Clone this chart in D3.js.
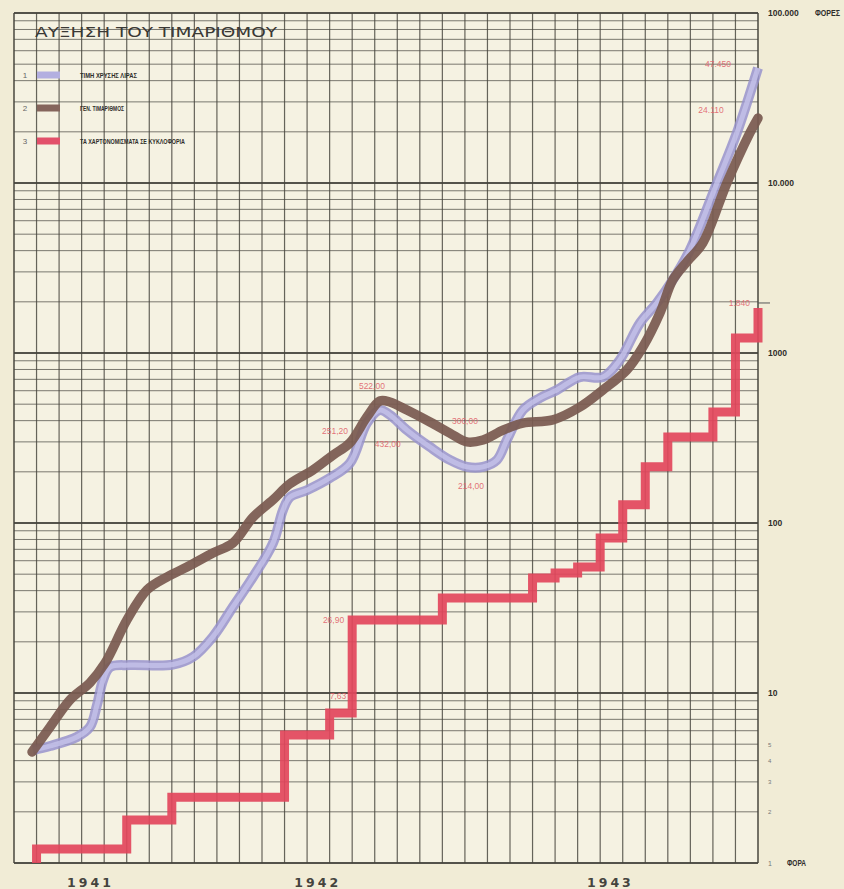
<!DOCTYPE html>
<html>
<head>
<meta charset="utf-8">
<script src="https://cdn.jsdelivr.net/npm/d3@7"></script>
<style>
  html, body { margin: 0; padding: 0; background: #f1edd9; }
  svg { display: block; }
</style>
</head>
<body>
<svg id="chart" width="844" height="889"></svg>
<script>
// ---------- DATA ----------
const title = "ΑΥΞΗΣΗ ΤΟΥ ΤΙΜΑΡΙΘΜΟΥ";
const legendLabels = ["ΤΙΜΗ ΧΡΥΣΗΣ ΛΙΡΑΣ", "ΓΕΝ. ΤΙΜΑΡΙΘΜΟΣ", "ΤΑ ΧΑΡΤΟΝΟΜΙΣΜΑΤΑ ΣΕ ΚΥΚΛΟΦΟΡΙΑ"];
const legendNumbers = ["1", "2", "3"];

// month index 0..33 (vertical grid lines)
const monthCount = 33;
const yearLabels = ["1941", "1942", "1943"];
const yearMonths = [3.37, 13.45, 26.43];

// right axis (multiples, "φορές")
const majorTicks = [1, 10, 100, 1000, 10000, 100000];
const majorTickLabels = ["1", "10", "100", "1000", "10.000", "100.000"];
const minorTicks = [2, 3, 4, 5];
const minorTickLabels = ["2", "3", "4", "5"];
const unitTop = "ΦΟΡΕΣ";
const unitBottom = "ΦΟΡΑ";

// series 1 (lavender)
const s1Months = [0.84, 1.6, 2.79, 3.37, 3.68, 3.95, 4.26, 5.14, 7.05, 7.94, 8.82, 9.71, 10.6, 11.49, 11.93, 12.24, 12.99, 14.01, 14.9, 15.65, 16.23, 16.67, 17.43, 18.45, 19.33, 20.09, 20.8, 21.42, 21.86, 22.57, 23.33, 24.08, 25.1, 26.12, 26.87, 27.76, 28.51, 29.22, 29.98, 31.18, 32.06, 33];
const s1Values = [4.62, 4.88, 5.51, 6.31, 8.5, 11.9, 14.2, 14.6, 14.7, 16.3, 21.4, 32.1, 48.1, 76.3, 119, 142, 156, 184, 225, 387, 462, 432, 352, 280, 235, 214, 214, 235, 308, 462, 544, 606, 722, 722, 910, 1500, 1970, 2690, 4040, 10000, 19700, 47450];

// series 2 (brown)
const s2Months = [0.8, 1.6, 2.48, 3.37, 4.04, 5.01, 5.9, 6.78, 7.67, 8.82, 9.71, 10.6, 11.49, 12.24, 13.26, 14.15, 14.9, 15.65, 16.23, 16.67, 17.43, 18.45, 19.33, 20.09, 20.8, 21.69, 22.57, 23.9, 25.1, 26.12, 27.18, 27.89, 28.65, 29.22, 29.84, 30.55, 31.62, 32.64, 33];
const s2Values = [4.5, 6.31, 9.1, 11.5, 15.0, 26.9, 40.4, 48.1, 55.1, 66.6, 76.3, 108, 137, 170, 205, 251, 296, 420, 522, 515, 462, 393, 338, 300, 308, 352, 387, 404, 481, 606, 794, 1084, 1719, 2690, 3430, 4440, 10000, 19700, 24110];

// series 3 (red, stepped)
const s3Months = [1, 1, 5, 7, 12, 14, 15, 19, 23, 24, 25, 26, 27, 28, 29, 31, 32, 33];
const s3Values = [1, 1.21, 1.79, 2.44, 5.66, 7.63, 26.9, 36.2, 47.5, 50.8, 55.1, 81.6, 128, 214, 321, 450, 1225, 1840];

// value annotations (anchor in data units)
const annotMonths = [14.15, 16.23, 16.67, 20.09, 20.45, 33, 33, 15, 15, 33];
const annotValues = [251, 522, 432, 300, 214, 47450, 24110, 26.9, 7.63, 1840];
const annotTexts = ["251,20", "522,00", "432,00", "300,00", "214,00", "47.450", "24.110", "26,90", "7,63", "1.840"];

// ---------- DRAW ----------
const W = 844, H = 889;
const svg = d3.select("#chart");
svg.append("rect").attr("width", W).attr("height", H).attr("fill", "#f1ecd6");

const x = d3.scaleLinear().domain([0, monthCount]).range([14, 758]);
const y = d3.scaleLog().domain([1, 100000]).range([863, 13]);

svg.append("rect")
  .attr("x", x(0)).attr("y", y(100000))
  .attr("width", x(monthCount) - x(0)).attr("height", y(1) - y(100000))
  .attr("fill", "#f5f2e2");

// horizontal log grid
const hVals = [];
for (let d = 0; d < 5; d++) for (let k = 1; k <= 9; k++) hVals.push(k * Math.pow(10, d));
hVals.push(100000);
const grid = svg.append("g");
grid.selectAll("line.h").data(hVals).join("line")
  .attr("x1", x(0)).attr("x2", x(monthCount))
  .attr("y1", d => y(d)).attr("y2", d => y(d))
  .attr("stroke", "#4b4a42")
  .attr("stroke-opacity", d => majorTicks.includes(d) ? 0.95 : 0.72)
  .attr("stroke-width", d => majorTicks.includes(d) ? 2 : 1);

// vertical month grid
grid.selectAll("line.v").data(d3.range(0, monthCount + 1)).join("line")
  .attr("x1", d => x(d)).attr("x2", d => x(d))
  .attr("y1", y(100000)).attr("y2", y(1))
  .attr("stroke", "#45443c")
  .attr("stroke-opacity", 0.82)
  .attr("stroke-width", d => (d === 0 || d === monthCount) ? 1.8 : 1.2);

// title
svg.append("text")
  .attr("x", 35).attr("y", 37)
  .attr("textLength", 242).attr("lengthAdjust", "spacingAndGlyphs")
  .attr("font-family", "DejaVu Sans, sans-serif")
  .attr("font-size", 14).attr("font-weight", "normal")
  .attr("fill", "#3a3935")
  .text(title);

// legend
const legColors = ["#b3afe0", "#85655c", "#e2506a"];
const legRowsY = [75, 108, 141];
const legWidths = [57, 44, 105];
legendLabels.forEach((t, i) => {
  svg.append("text").attr("x", 25).attr("y", legRowsY[i] + 3)
    .attr("font-family", "Liberation Sans, sans-serif").attr("font-size", 8)
    .attr("fill", "#666").attr("text-anchor", "middle").text(legendNumbers[i]);
  svg.append("rect").attr("x", 37).attr("y", legRowsY[i] - 3.5)
    .attr("width", 23).attr("height", 7).attr("fill", legColors[i]);
  svg.append("text").attr("x", 80).attr("y", legRowsY[i] + 2.5)
    .attr("textLength", legWidths[i]).attr("lengthAdjust", "spacingAndGlyphs")
    .attr("font-family", "Liberation Sans Narrow, Liberation Sans, sans-serif")
    .attr("font-size", 6.5).attr("font-weight", "bold")
    .attr("fill", "#2e2d2a").text(t);
});

// lines
const line = d3.line().x(d => x(d[0])).y(d => y(d[1])).curve(d3.curveCatmullRom.alpha(0.5));
const s1 = s1Months.map((m, i) => [m, s1Values[i]]);
const s2 = s2Months.map((m, i) => [m, s2Values[i]]);
const s3 = s3Months.map((m, i) => [m, s3Values[i]]);

svg.append("path").attr("d", line(s1)).attr("fill", "none")
  .attr("stroke", "#9893cd").attr("stroke-width", 10).attr("stroke-opacity", 0.85)
  .attr("stroke-linejoin", "round");
svg.append("path").attr("d", line(s1)).attr("fill", "none")
  .attr("stroke", "#c6c3ea").attr("stroke-width", 5).attr("stroke-opacity", 0.8)
  .attr("stroke-linejoin", "round");

svg.append("path").attr("d", line(s2)).attr("fill", "none")
  .attr("stroke", "#7a5a51").attr("stroke-width", 9.5).attr("stroke-opacity", 0.93)
  .attr("stroke-linejoin", "round").attr("stroke-linecap", "round");

const stepLine = d3.line().x(d => x(d[0])).y(d => y(d[1])).curve(d3.curveStepAfter);
svg.append("path").attr("d", stepLine(s3)).attr("fill", "none")
  .attr("stroke", "#e2465c").attr("stroke-width", 9).attr("stroke-opacity", 0.92)
  .attr("stroke-linejoin", "miter");

// small tick beyond border at red end
svg.append("line").attr("x1", x(monthCount)).attr("x2", x(monthCount) + 12)
  .attr("y1", y(s3Values[s3Values.length - 1]) - 5).attr("y2", y(s3Values[s3Values.length - 1]) - 5)
  .attr("stroke", "#555").attr("stroke-width", 1);

// annotations
const annotOffsets = [[2, -21], [-8, -12], [-2, 32], [-2, -18], [-4, 22], [-40, -1], [-47, -5], [-8, 3], [-6, -14], [-8, -2]];
const annotAnchor = ["middle", "middle", "middle", "middle", "middle", "middle", "middle", "end", "end", "end"];
annotTexts.forEach((t, i) => {
  svg.append("text")
    .attr("x", x(annotMonths[i]) + annotOffsets[i][0])
    .attr("y", y(annotValues[i]) + annotOffsets[i][1])
    .attr("text-anchor", annotAnchor[i])
    .attr("font-family", "Liberation Sans Narrow, Liberation Sans, sans-serif")
    .attr("font-size", 8.5)
    .attr("fill", "#e0626a").attr("fill-opacity", 0.9)
    .text(t);
});

// right axis labels
const axMajor = d3.axisRight(y).tickValues(majorTicks).tickSize(0)
  .tickFormat((d, i) => majorTickLabels[i]);
const gMaj = svg.append("g").attr("transform", `translate(${x(monthCount) + 8},0)`).call(axMajor);
gMaj.select(".domain").remove();
gMaj.selectAll("text").attr("x", 2).attr("dy", "0.35em")
  .attr("font-family", "Liberation Sans Narrow, Liberation Sans, sans-serif")
  .attr("font-weight", "bold").attr("font-size", 8.5).attr("fill", "#2f2e2b");
gMaj.selectAll("text").filter(d => d === 1).attr("font-size", 7).attr("fill", "#777").attr("font-weight", "normal");

const axMinor = d3.axisRight(y).tickValues(minorTicks).tickSize(0)
  .tickFormat((d, i) => minorTickLabels[i]);
const gMin = svg.append("g").attr("transform", `translate(${x(monthCount) + 8},0)`).call(axMinor);
gMin.select(".domain").remove();
gMin.selectAll("text").attr("x", 2).attr("dy", "0.35em")
  .attr("font-family", "Liberation Sans, sans-serif")
  .attr("font-size", 6).attr("fill", "#777");

svg.append("text").attr("x", 815).attr("y", y(100000) + 3)
  .attr("textLength", 25).attr("lengthAdjust", "spacingAndGlyphs")
  .attr("font-family", "Liberation Sans Narrow, Liberation Sans, sans-serif")
  .attr("font-weight", "bold").attr("font-size", 8.5).attr("fill", "#2f2e2b").text(unitTop);
svg.append("text").attr("x", 787).attr("y", y(1) + 3)
  .attr("textLength", 19).attr("lengthAdjust", "spacingAndGlyphs")
  .attr("font-family", "Liberation Sans Narrow, Liberation Sans, sans-serif")
  .attr("font-weight", "bold").attr("font-size", 8.5).attr("fill", "#2f2e2b").text(unitBottom);

// year labels (bottom axis)
const axYears = d3.axisBottom(x).tickValues(yearMonths).tickSize(0)
  .tickFormat((d, i) => yearLabels[i]);
const gY = svg.append("g").attr("transform", `translate(0,${y(1)})`).call(axYears);
gY.select(".domain").remove();
gY.selectAll("text").attr("y", 15).attr("dy", "0.71em")
  .attr("font-family", "DejaVu Sans, sans-serif").attr("font-weight", "bold")
  .attr("font-size", 12.5).attr("letter-spacing", 3).attr("fill", "#45443e");
</script>
</body>
</html>
